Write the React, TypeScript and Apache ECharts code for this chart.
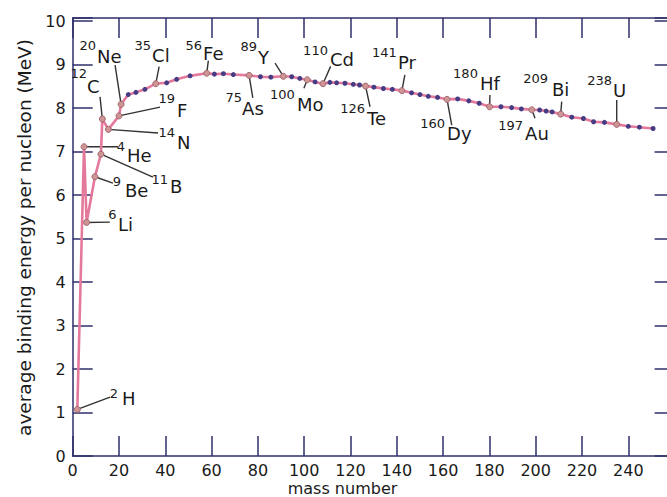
import React, { useEffect, useRef } from 'react';
import * as echarts from 'echarts';

// ---- data ----
// small (unlabelled) nuclides: mass number position and binding energy per nucleon (MeV)
const dotX = [24.0, 27.3, 31.2, 40.6, 44.9, 50.7, 61.2, 65.1, 69.4, 81.1, 85.6, 94.6, 98.1, 104.7, 111.1, 114, 117.6, 121.2, 123.9, 130.1, 134.2, 138.1, 146.4, 150, 153.6, 157.6, 166.3, 171.1, 175.6, 185, 189.6, 193.8, 201.7, 204.5, 207.1, 215.6, 220.6, 225, 229.7, 240, 244.8, 250.7];
const dotBE = [8.31, 8.36, 8.43, 8.58, 8.66, 8.74, 8.78, 8.79, 8.77, 8.72, 8.71, 8.72, 8.68, 8.60, 8.59, 8.58, 8.57, 8.545, 8.53, 8.48, 8.45, 8.43, 8.35, 8.31, 8.27, 8.245, 8.21, 8.165, 8.11, 8.03, 8.01, 7.98, 7.955, 7.93, 7.91, 7.79, 7.76, 7.685, 7.67, 7.58, 7.56, 7.53];

// labelled nuclides
const symbols = ['H', 'He', 'Li', 'Be', 'B', 'C', 'N', 'F', 'Ne', 'Cl', 'Fe', 'As', 'Y', 'Mo', 'Cd', 'Te', 'Pr', 'Dy', 'Hf', 'Au', 'Bi', 'U'];
const massNumbers = ['2', '4', '6', '9', '11', '12', '14', '19', '20', '35', '56', '75', '89', '100', '110', '126', '141', '160', '180', '197', '209', '238'];
const labelX = [2.0, 4.9, 6.0, 9.6, 12.2, 12.8, 15.4, 20.0, 20.9, 35.9, 57.9, 76.2, 91.0, 101.3, 108.1, 126.5, 142.2, 161.7, 180.1, 198.3, 210.8, 235.0];
const labelBE = [1.07, 7.11, 5.37, 6.42, 6.94, 7.75, 7.51, 7.82, 8.085, 8.56, 8.80, 8.75, 8.73, 8.65, 8.56, 8.505, 8.40, 8.20, 8.03, 7.96, 7.86, 7.625];

// axis ticks
const xMin = 0, xMax = 260, xStep = 20;
const yMin = 0, yMax = 10.07, yStep = 1;

// label placement relative to the point (pixels): [symbol dx, symbol dy, sup right dx, sup dy, leader end dx, leader end dy]
const labelPlacement: number[][] = [
  [44.7, -11, 40.7, -16, 32.7, -12.3],
  [43, 8.3, 41, -0.2, 34, 0],
  [31.3, 1.7, 30, -8.3, 23.3, -0.3],
  [30, 13.3, 26, 4.3, 18, 6.3],
  [69, 32.5, 67, 25, 52, 23],
  [-15.3, -32.5, -15.3, -45, -2.3, -22],
  [68.7, 13.2, 66.7, 3.2, 49.7, 3.7],
  [58, -5.7, 56, -17.2, 41, -8.7],
  [-24, -47.8, -25, -59.3, -6, -39.3],
  [-3.7, -28.5, -4.7, -38, 3.3, -17],
  [-3.7, -19.8, -4.7, -27.3, 1.6, -12.6],
  [-7, 33, -7, 22.5, 3.7, 22.5],
  [-25.3, -18.7, -26.3, -30.2, -8.3, -13.2],
  [-10.3, 24.9, -12.3, 14.4, -3.3, 8.4],
  [7, -24, 5, -33, 7.7, -17.3],
  [1.5, 32.5, -0.5, 22, 4.5, 20.7],
  [-4, -28.2, -5, -38.2, 3, -15.7],
  [0, 34.3, -2, 23.8, 4.7, 25.8],
  [-9.7, -23.2, -11.7, -33.7, 0.3, -11.7],
  [-6.7, 23.9, -8.7, 15.4, 3.3, 8.4],
  [-8.7, -24.2, -12.7, -35.2, 1, -12.5],
  [-3.7, -34.3, -4.7, -44.3, 0, -24.3],
];

const FONT = 'DejaVu Sans';
const NAVY = '#2f2f6c';

export default function App() {
  const ref = useRef<HTMLDivElement>(null);

  useEffect(() => {
    if (!ref.current) return;
    const chart = echarts.init(ref.current, undefined, { renderer: 'svg' });

    const dotPts = dotX.map((x, i) => [x, dotBE[i]]);
    const labPts = labelX.map((x, i) => [x, labelBE[i]]);
    const linePts = [...dotPts, ...labPts].sort((a, b) => a[0] - b[0]);

    const axisLine = { show: true, onZero: false, lineStyle: { color: NAVY, width: 1.5 } };
    const axisTick = { show: true, inside: true, length: 20, lineStyle: { color: NAVY, width: 1.5 } };
    const axisLabel = { fontFamily: FONT, fontSize: 16, color: '#1a1a1a' };

    chart.setOption({
      animation: false,
      backgroundColor: '#ffffff',
      grid: { left: 72.7, right: 5.4, top: 18, bottom: 41, containLabel: false },
      xAxis: [
        {
          type: 'value', position: 'bottom', min: xMin, max: xMax, interval: xStep,
          axisLine, axisTick, splitLine: { show: false },
          axisLabel: { ...axisLabel, margin: 6, showMaxLabel: false },
        },
        {
          type: 'value', position: 'top', min: xMin, max: xMax, interval: xStep,
          axisLine, axisTick, splitLine: { show: false }, axisLabel: { show: false },
        },
      ],
      yAxis: [
        {
          type: 'value', position: 'left', min: yMin, max: yMax, interval: yStep,
          axisLine, axisTick, splitLine: { show: false },
          axisLabel: {
            ...axisLabel, margin: 7,
            formatter: (v: number) => (Math.abs(v - Math.round(v)) < 1e-6 ? String(Math.round(v)) : ''),
          },
        },
        {
          type: 'value', position: 'right', min: yMin, max: yMax, interval: yStep,
          axisLine, axisTick, splitLine: { show: false }, axisLabel: { show: false },
        },
      ],
      series: [
        {
          type: 'line', data: linePts, symbol: 'none', z: 2,
          lineStyle: { color: '#e4799b', width: 2.6 },
        },
        {
          type: 'scatter', data: dotPts, symbol: 'circle', symbolSize: 5, z: 4,
          itemStyle: { color: '#463c84', opacity: 1 },
        },
        {
          type: 'scatter', data: labPts, symbol: 'circle', symbolSize: 6, z: 5,
          itemStyle: { color: '#cf9494', borderColor: '#a06870', borderWidth: 1, opacity: 1 },
        },
      ],
    });

    const graphics: any[] = [];
    labPts.forEach((p, i) => {
      const px = chart.convertToPixel({ xAxisIndex: 0, yAxisIndex: 0 }, p) as number[];
      const [sdx, sdy, udx, udy, edx, edy] = labelPlacement[i];
      graphics.push({
        type: 'line', z: 1, silent: true,
        shape: { x1: px[0], y1: px[1], x2: px[0] + edx, y2: px[1] + edy },
        style: { stroke: '#333333', lineWidth: 1.4 },
      });
      graphics.push({
        type: 'text', z: 10, x: px[0] + sdx, y: px[1] + sdy,
        style: { text: symbols[i], fontFamily: FONT, fontSize: 18, fill: '#1a1a1a', align: 'left', verticalAlign: 'middle' },
      });
      graphics.push({
        type: 'text', z: 10, x: px[0] + udx, y: px[1] + udy,
        style: { text: massNumbers[i], fontFamily: FONT, fontSize: 13, fill: '#1a1a1a', align: 'right', verticalAlign: 'middle' },
      });
    });
    graphics.push({
      type: 'text', x: 342.5, y: 488.5,
      style: { text: 'mass number', fontFamily: FONT, fontSize: 16, fill: '#1a1a1a', align: 'center', verticalAlign: 'middle' },
    });
    graphics.push({
      type: 'text', x: 24, y: 237.5, rotation: Math.PI / 2,
      style: { text: 'average binding energy per nucleon (MeV)', fontFamily: FONT, fontSize: 18.5, fill: '#1a1a1a', align: 'center', verticalAlign: 'middle' },
    });
    chart.setOption({ graphic: graphics });

    return () => chart.dispose();
  }, []);

  return (
    <div style={{ position: 'fixed', left: 0, top: 0, width: 667, height: 497, overflow: 'hidden', background: '#fff' }}>
      <div ref={ref} style={{ width: 680, height: 497 }} />
    </div>
  );
}
